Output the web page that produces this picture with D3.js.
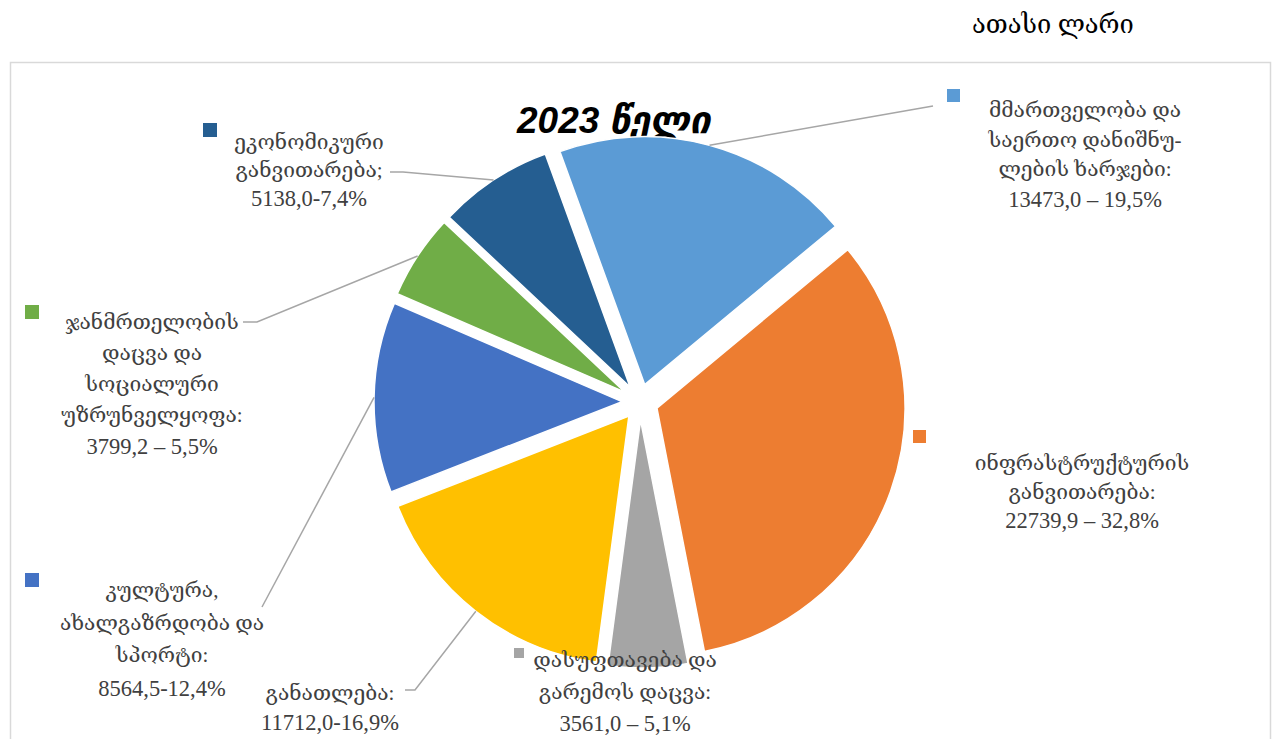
<!DOCTYPE html>
<html>
<head>
<meta charset="utf-8">
<script src="https://cdn.jsdelivr.net/npm/d3@7"></script>
<style>
  html, body { margin: 0; padding: 0; background: #fff; }
  svg { display: block; }
</style>
</head>
<body>
<svg id="chart" width="1277" height="739"></svg>
<script>
// Budget expenditure by function, 2023 (thousand GEL)
const categories = [
  "მმართველობა და საერთო დანიშნულების ხარჯები",
  "ინფრასტრუქტურის განვითარება",
  "დასუფთავება და გარემოს დაცვა",
  "განათლება",
  "კულტურა, ახალგაზრდობა და სპორტი",
  "ჯანმრთელობის დაცვა და სოციალური უზრუნველყოფა",
  "ეკონომიკური განვითარება"
];
const values = [13473.0, 22739.9, 3561.0, 11712.0, 8564.5, 3799.2, 5138.0];
const shares = [19.5, 32.8, 5.1, 16.9, 12.4, 5.5, 7.4];
const labelLines = [
  ["მმართველობა და", "საერთო დანიშნუ-", "ლების ხარჯები:"],
  ["ინფრასტრუქტურის", "განვითარება:"],
  ["დასუფთავება და", "გარემოს დაცვა:"],
  ["განათლება:"],
  ["კულტურა,", "ახალგაზრდობა და", "სპორტი:"],
  ["ჯანმრთელობის", "დაცვა და", "სოციალური", "უზრუნველყოფა:"],
  ["ეკონომიკური", "განვითარება;"]
];
const valueSeparators = [" – ", " – ", " – ", "-", "-", " – ", "-"];
const titleText = "2023 წელი";
const unitText = "ათასი ლარი";

const colors = ["#5B9BD5", "#ED7D31", "#A5A5A5", "#FFC000", "#4472C4", "#70AD47", "#255E91"];

// label placement: centre x, first line centre y, line step, legend key, leader elbow points
const labelLayout = [
  { x: 1085, y: 110, step: 29.5, key: [947, 89, 13], leader: [[933, 106]] },
  { x: 1082, y: 463, step: 28.5, key: [913, 430, 13], leader: null },
  { x: 625,  y: 660, step: 31.5, key: [514, 648, 10], leader: null },
  { x: 330,  y: 693, step: 29,   key: null, leader: [[405, 690], [415, 690]] },
  { x: 162,  y: 590, step: 32.7, key: [25, 573, 14], leader: [[262, 607]] },
  { x: 152,  y: 322, step: 31,   key: [25, 305, 14], leader: [[243, 322], [257, 322]] },
  { x: 309,  y: 142, step: 28,   key: [203, 123, 14], leader: [[390, 172], [403, 172]] }
];

const svg = d3.select("#chart");
const cx = 640, cy = 402, R = 248, explode = 18;
const start = -20 * Math.PI / 180;
const labelFont = "'Liberation Serif', 'DejaVu Serif', serif";
const labelSize = 21;
const numberSize = 22.5;

// outer frame
svg.append("rect")
  .attr("x", 10.5).attr("y", 62.5)
  .attr("width", 1260).attr("height", 700)
  .attr("fill", "none").attr("stroke", "#d9d9d9").attr("stroke-width", 1.5);

// unit caption
svg.append("text")
  .attr("x", 972).attr("y", 33)
  .attr("font-family", labelFont).attr("font-size", 25.5)
  .attr("fill", "#000").text(unitText);

// title (sits behind the pie)
svg.append("text")
  .attr("x", 517).attr("y", 133)
  .attr("font-family", "'Liberation Sans', 'DejaVu Sans', sans-serif")
  .attr("font-size", 37).attr("font-weight", "bold").attr("font-style", "italic")
  .attr("fill", "#000").text(titleText);

const pie = d3.pie().sort(null).value(d => d)
  .startAngle(start).endAngle(start + 2 * Math.PI);
const arcs = pie(values);
const arc = d3.arc().innerRadius(0).outerRadius(R);

function offsetOf(a) {
  const mid = (a.startAngle + a.endAngle) / 2;
  return [cx + Math.sin(mid) * explode, cy - Math.cos(mid) * explode];
}

svg.append("g").selectAll("path")
  .data(arcs).join("path")
  .attr("transform", d => { const o = offsetOf(d); return `translate(${o[0]},${o[1]})`; })
  .attr("d", arc)
  .attr("fill", (d, i) => colors[i])
  .attr("stroke", "#fff").attr("stroke-width", 1.5);

// leader lines from slice rim to label
const line = d3.line();
arcs.forEach((a, i) => {
  const L = labelLayout[i];
  if (!L.leader) return;
  const mid = (a.startAngle + a.endAngle) / 2;
  const o = offsetOf(a);
  const rim = [o[0] + Math.sin(mid) * R, o[1] - Math.cos(mid) * R];
  svg.append("path")
    .attr("d", line([...L.leader, rim]))
    .attr("fill", "none").attr("stroke", "#a6a6a6").attr("stroke-width", 1.5);
});

// data labels
const fmt = v => v.toFixed(1).replace(".", ",");
arcs.forEach((a, i) => {
  const L = labelLayout[i];
  const lines = [...labelLines[i], fmt(values[i]) + valueSeparators[i] + fmt(shares[i]) + "%"];
  if (L.key) {
    svg.append("rect")
      .attr("x", L.key[0]).attr("y", L.key[1])
      .attr("width", L.key[2]).attr("height", L.key[2])
      .attr("fill", colors[i]);
  }
  const t = svg.append("text")
    .attr("font-family", labelFont).attr("font-size", labelSize)
    .attr("fill", "#404040").attr("text-anchor", "middle");
  lines.forEach((s, k) => {
    const isNumber = k === lines.length - 1;
    t.append("tspan")
      .attr("x", L.x)
      .attr("y", L.y + k * L.step + (isNumber ? 8 : 7))
      .attr("font-size", isNumber ? numberSize : labelSize)
      .text(s);
  });
});
</script>
</body>
</html>
